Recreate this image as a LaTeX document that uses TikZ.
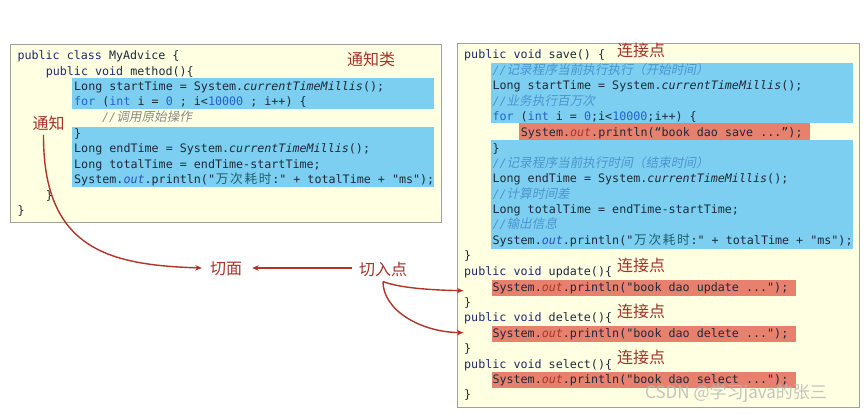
\documentclass[tikz,border=0pt]{standalone}
\usepackage{fontspec}
\usetikzlibrary{arrows.meta}
\newfontfamily\codefam{DejaVu Sans Mono}
\newfontfamily\cjkcode{Noto Sans CJK SC}[Scale=1.08]
\newfontfamily\cjkcodeit{Noto Sans CJK SC}[Scale=1.08,FakeSlant=0.2]
\newfontfamily\cjklab{Noto Sans CJK SC}
\definecolor{panelbg}{HTML}{FFFFE1}
\definecolor{panelbd}{HTML}{A0A0A0}
\definecolor{hlblue}{HTML}{7CCFF0}
\definecolor{hlred}{HTML}{E8806E}
\definecolor{codec}{HTML}{1E2A3A}
\definecolor{kwc}{HTML}{1F2A6B}
\definecolor{blc}{HTML}{2563C9}
\definecolor{outc}{HTML}{3050B8}
\definecolor{outr}{HTML}{A8362A}
\definecolor{cmtgray}{HTML}{8A8A8A}
\definecolor{cmtblue}{HTML}{4A96D0}
\definecolor{strc}{HTML}{1F5F6F}
\definecolor{labc}{HTML}{A5322A}
\definecolor{arrc}{HTML}{B0342A}
\newcommand\kw[1]{\textcolor{kwc}{#1}}
\newcommand\bl[1]{\textcolor{blc}{#1}}
\newcommand\itx[1]{{\itshape #1}}
\newcommand\outb{\textcolor{outc}{\itshape out}}
\newcommand\outred{\textcolor{outr}{\itshape out}}
\newcommand\cmt[1]{{\itshape //}{\cjkcodeit #1}}
\newcommand\cw[1]{\makebox[14.3pt]{\cjkcode #1}}
\newcommand\wanci{\textcolor{strc}{\cw{万}\cw{次}\cw{耗}\cw{时}}}
\tikzset{
  panel/.style={draw=panelbd, line width=0.8pt, fill=panelbg, inner sep=0pt, anchor=north west},
  bluebox/.style={fill=hlblue, inner sep=0pt, anchor=north west},
  redbox/.style={fill=hlred, inner sep=0pt, anchor=north west},
  code/.style={anchor=base west, inner sep=0pt, font=\codefam\fontsize{11.7}{14}\selectfont, text=codec},
  lab/.style={inner sep=0pt, font=\cjklab\fontsize{16}{18}\selectfont, text=labc},
  arr/.style={draw=arrc, line width=1.4pt, -{Stealth[length=6.5pt,width=5.5pt]}},
}
\begin{document}
\begin{tikzpicture}[x=1pt,y=-1pt]
\useasboundingbox (0,0) rectangle (865,413);
% panels
\node[panel, minimum width=430.7pt, minimum height=177.7pt] (lp) at (10,44.3) {};
\node[panel, minimum width=401.4pt, minimum height=364pt] (rp) at (457.3,43.3) {};
% left highlight boxes
\node[bluebox, minimum width=362pt, minimum height=31.3pt] (lb1) at (72,77.7) {};
\node[bluebox, minimum width=362pt, minimum height=59.7pt] (lb2) at (72,127) {};
% right highlight boxes
\node[bluebox, minimum width=362pt, minimum height=60.4pt] (rb1) at (490.7,62.3) {};
\node[redbox, minimum width=291pt, minimum height=17.3pt] (sv) at (519,122.7) {};
\node[bluebox, minimum width=362pt, minimum height=109pt] (rb2) at (490.7,140) {};
\node[redbox, minimum width=304.7pt, minimum height=16.4pt] (upd) at (491.3,279.3) {};
\node[redbox, minimum width=304.7pt, minimum height=16.4pt] (del) at (491.3,325.3) {};
\node[redbox, minimum width=304.7pt, minimum height=16pt] (sel) at (491.3,371.5) {};
% left code
\node[code] (l1) at (17.3,59.3) {\kw{public class} MyAdvice \{};
\node[code] (l2) at (45.6,75.3) {\kw{public void} method()\{};
\node[code] (l3) at (74,90.8) {Long startTime = System.\itx{currentTimeMillis}();};
\node[code] (l4) at (74,105.8) {\bl{for} (\bl{int} i = \bl{0} ; i<\bl{10000} ; i++) \{};
\node[code, text=cmtgray] (l5) at (102,121.8) {\cmt{调用原始操作}};
\node[code] (l6) at (74,137.8) {\}};
\node[code] (l7) at (74,152.8) {Long endTime = System.\itx{currentTimeMillis}();};
\node[code] (l8) at (74,168.3) {Long totalTime = endTime-startTime;};
\node[code] (l9) at (74,183.8) {System.\outb.println("\wanci:" + totalTime + "ms");};
\node[code] (l10) at (45.6,199.3) {\}};
\node[code] (l11) at (17.3,214.8) {\}};
% right code
\node[code] (r1) at (464,58.8) {\kw{public void} save() \{};
\node[code, text=cmtblue] (r2) at (492.3,74.5) {\cmt{记录程序当前执行执行（开始时间）}};
\node[code] (r3) at (492.3,89.5) {Long startTime = System.\itx{currentTimeMillis}();};
\node[code, text=cmtblue] (r4) at (492.3,105.5) {\cmt{业务执行百万次}};
\node[code] (r5) at (492.3,120.8) {\bl{for} (\bl{int} i = \bl{0};i<\bl{10000};i++) \{};
\node[code] (r6) at (520.6,136.5) {System.\outred.println(“book dao save ...”);};
\node[code] (r7) at (492.3,152.1) {\}};
\node[code, text=cmtblue] (r8) at (492.3,167.1) {\cmt{记录程序当前执行时间（结束时间）}};
\node[code] (r9) at (492.3,182.8) {Long endTime = System.\itx{currentTimeMillis}();};
\node[code, text=cmtblue] (r10) at (492.3,198.5) {\cmt{计算时间差}};
\node[code] (r11) at (492.3,213.8) {Long totalTime = endTime-startTime;};
\node[code, text=cmtblue] (r12) at (492.3,228.8) {\cmt{输出信息}};
\node[code] (r13) at (492.3,244.5) {System.\outb.println("\wanci:" + totalTime + "ms");};
\node[code] (r14) at (464,259.5) {\}};
\node[code] (r15) at (464,275.5) {\kw{public void} update()\{};
\node[code] (r16) at (492.3,291.1) {System.\outred.println("book dao update ...");};
\node[code] (r17) at (464,306.1) {\}};
\node[code] (r18) at (464,321.8) {\kw{public void} delete()\{};
\node[code] (r19) at (492.3,337.1) {System.\outred.println("book dao delete ...");};
\node[code] (r20) at (464,352.8) {\}};
\node[code] (r21) at (464,368.1) {\kw{public void} select()\{};
\node[code] (r22) at (492.3,383.1) {System.\outred.println("book dao select ...");};
\node[code] (r23) at (464,398.8) {\}};
% labels
\node[lab] (tzl) at (371,59) {通知类};
\node[lab] (tz) at (48.5,123.3) {通知};
\node[lab] (qm) at (226,269) {切面};
\node[lab] (qrd) at (383,269) {切入点};
\node[lab] (lj1) at (641,50) {连接点};
\node[lab] (lj2) at (641,265) {连接点};
\node[lab] (lj3) at (641,311) {连接点};
\node[lab] (lj4) at (641,357) {连接点};
% watermark
\node[anchor=west, inner sep=0pt, font=\cjklab\fontsize{17}{19}\selectfont, text=gray!55, opacity=0.85] (wm) at (645,393.5) {CSDN @学习java的张三};
% connectors
\draw[arr] ([xshift=-5pt,yshift=-4pt]tz.south) .. controls (43,250) and (110,265) .. ([xshift=-8pt,yshift=1pt]qm.west);
\draw[arr] ([xshift=-7pt,yshift=1pt]qrd.west) -- ([xshift=10pt,yshift=1pt]qm.east);
\draw[arr] ([yshift=-5pt]qrd.south) .. controls (400,288) and (430,290) .. ([xshift=-28pt,yshift=-3pt]upd.west);
\draw[arr] ([yshift=-5pt]qrd.south) .. controls (383,310) and (420,332) .. ([xshift=-28pt,yshift=1pt]del.west);
\end{tikzpicture}
\end{document}
